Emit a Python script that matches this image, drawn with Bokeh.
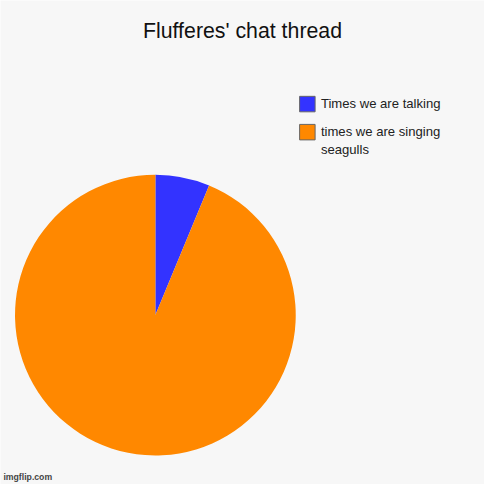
from bokeh.plotting import figure
from bokeh.models import Range1d
from bokeh.core.properties import value
from bokeh.embed import file_html
from bokeh.resources import INLINE
import numpy as np

title = "Flufferes' chat thread"
labels = ["Times we are talking", "times we are singing\nseagulls"]
values = [1, 15]
colors = ["#3333ff", "#ff8800"]

W = H = 484
S = W / 500.0
p = figure(width=W, height=H, output_backend="svg", toolbar_location=None,
           x_range=Range1d(0, W), y_range=Range1d(0, H), min_border=0)
p.axis.visible = False
p.grid.visible = False
p.outline_line_color = None
p.background_fill_color = "#f7f7f7"
p.border_fill_color = "#f7f7f7"

def Y(abs_y):
    return H - abs_y * S

def X(abs_x):
    return abs_x * S

def px(n):
    return "%.1fpx" % (n * S)

# pie: clockwise from 12 o'clock
total = float(sum(values))
fr = np.array(values) / total
cum = np.concatenate([[0], np.cumsum(fr)])
cx, cy, r = X(160), Y(325), 145 * S
for i in range(len(values)):
    a0 = np.pi / 2 - cum[i + 1] * 2 * np.pi
    a1 = np.pi / 2 - cum[i] * 2 * np.pi
    p.wedge(x=cx, y=cy, radius=r, start_angle=a0, end_angle=a1,
            fill_color=colors[i], line_color=None)

# legend
leg_y = [107, 136]
for i, lab in enumerate(labels):
    p.rect(x=X(317), y=Y(leg_y[i]), width=16 * S, height=16 * S,
           fill_color=colors[i], line_color="#666666", line_width=1)
    p.text(x=X(331), y=Y(leg_y[i] - 8), text=[lab], text_font=value("Liberation Sans"),
           text_font_size=px(13.5), text_color="#222222", text_baseline="top",
           text_align="left", text_line_height=1.2)

p.text(x=X(250), y=Y(31), text=[title], text_font=value("Liberation Sans"),
       text_font_size=px(22), text_color="#111111", text_baseline="middle",
       text_align="center")

p.text(x=X(3), y=Y(497), text=["imgflip.com"], text_font=value("Liberation Sans"),
       text_font_size=px(9), text_font_style="bold", text_color="#444444",
       text_baseline="bottom", text_align="left")

open("out.html", "w").write(file_html(p, INLINE))
